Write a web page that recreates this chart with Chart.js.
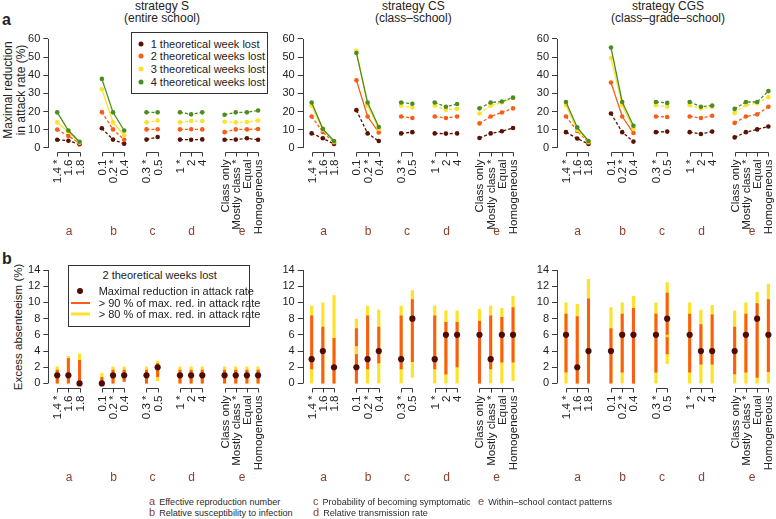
<!DOCTYPE html>
<html>
<head>
<meta charset="utf-8">
<script src="https://cdn.jsdelivr.net/npm/chart.js@4.4.1/dist/chart.umd.min.js"></script>
<style>
body { margin: 0; width: 776px; height: 519px; background: #fff; position: relative; overflow: hidden;
       font-family: "Liberation Sans", Arial, sans-serif; color: #222; }
canvas { position: absolute; }
.t { position: absolute; white-space: nowrap; transform: translate(-50%, -50%); }
.rot { position: absolute; white-space: nowrap; transform: translate(-50%, -50%) rotate(-90deg); text-align: center; }
.box { position: absolute; background: #fff; border: 1px solid #333; box-sizing: border-box; }
.lt { position: absolute; white-space: nowrap; transform: translateY(-50%); font-size: 11px; }
.dot { position: absolute; border-radius: 50%; transform: translate(-50%, -50%); }
.seg { position: absolute; transform: translateY(-50%); }
.fn { position: absolute; white-space: nowrap; transform: translateY(-50%); font-size: 9.1px; color: #2a2a2a; }
.fn b { font-weight: normal; color: #8b3e2f; font-size: 11px; margin-right: 4px; }
</style>
</head>
<body>

<div class="t" style="left:2px;top:12px;transform:none;font-weight:bold;font-size:16px;line-height:1">a</div>
<div class="t" style="left:2px;top:251px;transform:none;font-weight:bold;font-size:16px;line-height:1">b</div>

<div class="t" style="left:162px;top:6px;font-size:12px">strategy S</div>
<div class="t" style="left:162px;top:17.5px;font-size:12px">(entire school)</div>
<div class="t" style="left:413.3px;top:6px;font-size:12px">strategy CS</div>
<div class="t" style="left:413.3px;top:17.5px;font-size:12px">(class–school)</div>
<div class="t" style="left:668px;top:6px;font-size:12px">strategy CGS</div>
<div class="t" style="left:668px;top:17.5px;font-size:12px">(class–grade–school)</div>

<div class="rot" style="left:14.7px;top:90px;font-size:12px;line-height:12.7px">Maximal reduction<br>in attack rate (%)</div>
<div class="rot" style="left:18.3px;top:327px;font-size:11.5px">Excess absenteeism (%)</div>

<canvas id="topS"></canvas>
<canvas id="topCS"></canvas>
<canvas id="topCGS"></canvas>
<canvas id="botS"></canvas>
<canvas id="botCS"></canvas>
<canvas id="botCGS"></canvas>

<div id="legendTop" class="box" style="left:130.7px;top:31.7px;width:137.6px;height:62.3px"></div>
<div id="legendBot" class="box" style="left:67.7px;top:264.7px;width:182.3px;height:62px"></div>

<div id="foot"></div>

<script>
// x axis: scenarios, grouped by varied parameter (a..e)
const groupLetters = ['a', 'b', 'c', 'd', 'e'];
const groupNames = ['Effective reproduction number', 'Relative susceptibility to infection',
    'Probability of becoming symptomatic', 'Relative transmission rate', 'Within–school contact patterns'];
const scenarioLabels = ['1.4 *', '1.6', '1.8', '0.1', '0.2 *', '0.4', '0.3 *', '0.5',
    '1 *', '2', '4', 'Class only', 'Mostly class *', 'Equal', 'Homogeneous'];
const scenarioGroup = [0, 0, 0, 1, 1, 1, 2, 2, 3, 3, 3, 4, 4, 4, 4];

// panel a: maximal reduction in attack rate (%), by theoretical weeks lost
const weeksLost = ['1 theoretical week lost', '2 theoretical weeks lost', '3 theoretical weeks lost', '4 theoretical weeks lost'];
const reductionTicks = [0, 10, 20, 30, 40, 50, 60];

const redS1 = [4.5, 4.0, 2.0, 10.8, 4.6, 2.3, 4.6, 6.0, 4.6, 4.5, 4.7, 4.5, 4.6, 5.3, 4.5];
const redS2 = [10.1, 6.6, 2.6, 19.7, 10.2, 4.5, 10.2, 10.3, 10.2, 10.3, 10.2, 8.7, 10.2, 10.2, 10.4];
const redS3 = [14.1, 8.9, 3.0, 32.3, 14.1, 7.0, 14.1, 15.1, 14.1, 14.8, 14.8, 14.4, 14.1, 14.3, 15.1];
const redS4 = [19.6, 9.6, 3.4, 38.0, 19.6, 9.6, 19.6, 19.6, 19.6, 18.5, 19.6, 18.3, 19.6, 19.6, 20.6];

const redCS1 = [8.0, 5.3, 2.2, 20.8, 8.0, 3.8, 8.0, 8.7, 8.0, 7.9, 8.0, 5.5, 8.0, 9.2, 11.0];
const redCS2 = [17.3, 8.8, 3.0, 37.3, 17.3, 8.5, 17.3, 16.5, 17.3, 16.5, 17.3, 13.5, 17.3, 19.5, 21.8];
const redCS3 = [23.3, 10.0, 3.5, 53.5, 23.3, 10.5, 23.3, 22.3, 23.3, 21.0, 21.6, 19.0, 23.3, 25.0, 27.5];
const redCS4 = [25.0, 10.5, 3.8, 52.3, 25.0, 11.5, 25.0, 24.3, 25.0, 22.7, 24.2, 21.8, 25.0, 25.6, 27.7];

const redCGS1 = [8.7, 5.2, 2.2, 19.0, 8.7, 3.5, 8.7, 9.0, 8.7, 7.7, 9.0, 5.8, 8.7, 10.2, 11.8];
const redCGS2 = [17.3, 9.3, 3.0, 36.0, 17.3, 8.2, 17.3, 17.0, 17.3, 16.5, 17.7, 13.8, 17.3, 18.5, 22.7];
const redCGS3 = [23.5, 10.0, 3.5, 49.5, 23.5, 10.5, 23.5, 22.7, 23.5, 21.7, 22.5, 19.3, 23.5, 24.7, 28.0];
const redCGS4 = [25.3, 11.3, 3.8, 55.3, 25.3, 12.2, 25.3, 24.8, 25.3, 22.7, 23.3, 21.5, 25.3, 25.3, 31.3];

// panel b: excess absenteeism (%), 2 theoretical weeks lost
const absenteeismTicks = [0, 2, 4, 6, 8, 10, 12, 14];
const bLegend = ['2 theoretical weeks lost', 'Maximal reduction in attack rate',
    '> 90 % of max. red. in attack rate', '> 80 % of max. red. in attack rate'];

const absS = [1, 1, 0, 0, 1, 1, 1, 2, 1, 1, 1, 1, 1, 1, 1];
const absS90 = [[0, 1.7], [0, 3.1], [0, 2.9], [0, 0.8], [0, 1.7], [0.2, 1.7], [0, 1.7], [0.8, 2.5],
    [0, 1.7], [0, 1.7], [0, 1.7], [0, 1.7], [0, 1.7], [0, 1.7], [0, 1.7]];
const absS80 = [[0, 2.1], [0, 3.4], [0, 3.7], [0, 1.3], [0, 2.1], [0.2, 2.1], [0, 2.1], [0.3, 2.8],
    [0, 2.1], [0, 2.1], [0, 2.1], [0, 2.1], [0, 2.1], [0, 2.1], [0, 2.1]];
const absSGap = [];

const absCS = [3, 4, 2, 2, 3, 4, 3, 8, 3, 6, 6, 6, 3, 6, 6];
const absCS90 = [[1.75, 8.4], [0, 7.0], [0, 5.6], [0, 6.8], [1.75, 8.4], [2.5, 7.0], [1.75, 8.4], [2.65, 10.4],
    [1.75, 8.4], [1.1, 7.6], [2.0, 7.6], [0, 7.7], [1.75, 8.4], [2.6, 8.2], [2.6, 9.4]];
const absCS80 = [[0, 9.6], [0, 10.0], [0, 10.9], [0, 8.0], [0, 9.6], [0, 9.1], [0, 9.6], [0.7, 11.5],
    [0, 9.6], [0, 9.0], [0, 9.0], [0, 9.2], [0, 9.6], [0, 9.3], [0.3, 10.8]];
const absCSGap = [[3, [3.6, 4.6]]];

const absCGS = [6, 2, 4, 4, 6, 6, 6, 8, 6, 4, 4, 4, 6, 8, 6];
const absCGS90 = [[1.35, 8.6], [0, 8.3], [0, 10.5], [0, 6.8], [1.35, 8.6], [0, 9.3], [1.35, 8.6], [3.6, 11.2],
    [1.35, 8.6], [2.35, 7.3], [2.35, 8.5], [1.15, 7.0], [1.35, 8.6], [0.7, 9.9], [1.4, 10.4]];
const absCGS80 = [[0, 10.0], [0, 9.8], [0, 12.9], [0, 9.4], [0, 10.0], [0, 10.8], [0, 10.0], [2.4, 12.5],
    [0, 10.0], [0, 9.1], [0, 9.7], [0, 9.0], [0, 10.0], [0, 11.3], [0, 12.3]];
const absCGSGap = [[7, [5.7, 6.0]]];

// ---- styling / layout ----
const weekColors = ['#5a1205', '#f95d17', '#fde22a', '#4b8d23'];
const pointDark = '#4e0c03';
const letterColor = '#8b3e2f';
const axisColor = '#3a3a3a';
Chart.defaults.font.family = '"Liberation Sans", Arial, sans-serif';
Chart.defaults.font.size = 11;
Chart.defaults.color = '#222';

const cols = [
    { left: 0, axisX: 48.3, right: 268.6, xmax: 18.8 },
    { left: 270, axisX: 302.7, right: 524, xmax: 18.8 },
    { left: 526, axisX: 557, right: 775.6, xmax: 18.5 }
];
const rows = {
    top: { top: 25, height: 215, areaTop: 28.7, areaBottom: 152.3, ymin: -2.4, ymax: 62.4, letterOffset: 79.7 },
    bot: { top: 255, height: 230, areaTop: 265.5, areaBottom: 388, ymin: -0.56, ymax: 14.56, letterOffset: 90 }
};

// position along the x scale: one empty slot between groups
const xPos = i => i + scenarioGroup[i];
function groupOfPos(p) {
    for (let i = 0; i < scenarioLabels.length; i++) if (xPos(i) === p) return scenarioGroup[i];
    return -1;
}

// R-like axes: y line only between end ticks, bracketed group axes below
const rAxes = {
    id: 'rAxes',
    afterDraw(chart, args, o) {
        const { ctx, chartArea: ca, scales: { x, y } } = chart;
        ctx.save();
        ctx.strokeStyle = axisColor;
        ctx.lineWidth = 1;
        const ax = Math.round(ca.left) + 0.5;
        const yt = y.ticks;
        ctx.beginPath();
        ctx.moveTo(ax, y.getPixelForValue(yt[0].value));
        ctx.lineTo(ax, y.getPixelForValue(yt[yt.length - 1].value));
        ctx.stroke();

        const yb = Math.round(ca.bottom) + 0.5;
        groupLetters.forEach((letter, g) => {
            const idx = scenarioLabels.map((_, i) => i).filter(i => scenarioGroup[i] === g);
            const px = idx.map(i => Math.round(x.getPixelForValue(xPos(i))) + 0.5);
            ctx.beginPath();
            ctx.moveTo(px[0], yb);
            ctx.lineTo(px[px.length - 1], yb);
            px.forEach(p => { ctx.moveTo(p, yb); ctx.lineTo(p, yb + 4); });
            ctx.stroke();
            ctx.font = '11.5px "Liberation Sans", Arial, sans-serif';
            ctx.fillStyle = '#222';
            ctx.textAlign = 'right';
            ctx.textBaseline = 'middle';
            idx.forEach((i, k) => {
                ctx.save();
                ctx.translate(px[k], yb + 7);
                ctx.rotate(-Math.PI / 2);
                ctx.fillText(scenarioLabels[i], 0, 0);
                ctx.restore();
            });
            ctx.font = '12px "Liberation Sans", Arial, sans-serif';
            ctx.fillStyle = letterColor;
            ctx.textAlign = 'center';
            ctx.fillText(letter, (px[0] + px[px.length - 1]) / 2, ca.bottom + o.letterOffset);
        });
        ctx.restore();
    }
};

function makeChart(id, col, row, ticks, config) {
    const w = Math.ceil(col.right - col.left) + 2;
    const c = document.getElementById(id);
    c.width = w;
    c.height = row.height;
    c.style.left = col.left + 'px';
    c.style.top = row.top + 'px';
    config.options = {
        responsive: false,
        animation: false,
        layout: { padding: { left: 0, top: row.areaTop - row.top, right: w - (col.right - col.left), bottom: row.top + row.height - row.areaBottom } },
        plugins: { legend: { display: false }, tooltip: { enabled: false }, rAxes: { letterOffset: row.letterOffset } },
        scales: {
            x: { type: 'linear', min: -0.8, max: col.xmax, display: false, offset: false },
            y: {
                min: row.ymin, max: row.ymax,
                afterBuildTicks: s => { s.ticks = ticks.map(v => ({ value: v })); },
                afterFit: s => { s.width = col.axisX - col.left; },
                grid: { drawOnChartArea: false, tickLength: 5, color: axisColor },
                border: { display: false },
                ticks: { padding: 3, color: '#222' }
            }
        }
    };
    config.plugins = [rAxes];
    return new Chart(c, config);
}

// solid segments: for each series, the groups drawn solid; the rest dashed
const solidGroups = {
    S: [[], [], [0, 1], [0, 1]],
    C: [[], [1], [0, 1], [0, 1]]
};

function lineData(values) {
    const pts = [];
    values.forEach((v, i) => {
        if (i > 0 && scenarioGroup[i] !== scenarioGroup[i - 1]) pts.push({ x: xPos(i) - 1, y: null });
        pts.push({ x: xPos(i), y: v });
    });
    return pts;
}

function topChart(id, col, series, solid) {
    return makeChart(id, col, rows.top, reductionTicks, {
        type: 'line',
        data: {
            datasets: series.map((vals, si) => ({
                label: weeksLost[si],
                data: lineData(vals),
                borderColor: weekColors[si],
                backgroundColor: weekColors[si],
                borderWidth: 1.3,
                pointRadius: 2.3,
                pointBorderWidth: 0,
                pointBackgroundColor: weekColors[si],
                order: 3 - si,
                segment: { borderDash: ctx => solid[si].includes(groupOfPos(ctx.p0.parsed.x)) ? [] : [3, 2] }
            }))
        }
    });
}

// vertical interval segments, broken by null points
function rangeData(items) {
    return items.flatMap(([i, r]) => [{ x: xPos(i), y: r[0] }, { x: xPos(i), y: r[1] }, { x: xPos(i), y: null }]);
}

function botChart(id, col, point, r90, r80, gaps) {
    const range = (items, color, width, order) => ({
        data: rangeData(items), borderColor: color, borderWidth: width, borderCapStyle: 'butt',
        pointRadius: 0, spanGaps: false, order
    });
    return makeChart(id, col, rows.bot, absenteeismTicks, {
        type: 'line',
        data: {
            datasets: [
                { label: bLegend[1], data: point.map((v, i) => ({ x: xPos(i), y: v })), showLine: false,
                  pointRadius: 3.1, pointBorderWidth: 0, pointBackgroundColor: pointDark, order: 0 },
                range(gaps, weekColors[2], 3, 1),
                range(r90.map((r, i) => [i, r]), weekColors[1], 3, 2),
                range(r80.map((r, i) => [i, r]), weekColors[2], 3.2, 3)
            ]
        }
    });
}

topChart('topS', cols[0], [redS1, redS2, redS3, redS4], solidGroups.S);
topChart('topCS', cols[1], [redCS1, redCS2, redCS3, redCS4], solidGroups.C);
topChart('topCGS', cols[2], [redCGS1, redCGS2, redCGS3, redCGS4], solidGroups.C);
botChart('botS', cols[0], absS, absS90, absS80, absSGap);
botChart('botCS', cols[1], absCS, absCS90, absCS80, absCSGap);
botChart('botCGS', cols[2], absCGS, absCGS90, absCGS80, absCGSGap);

// legends
const lt = document.getElementById('legendTop');
const rowsY = [10.9, 23.7, 36.5, 49.3];
lt.innerHTML = weeksLost.map((w, i) =>
    `<div class="dot" style="left:9px;top:${rowsY[i]}px;width:5px;height:5px;background:${weekColors[i]}"></div>` +
    `<div class="lt" style="left:19px;top:${rowsY[i]}px">${w}</div>`).join('');

const lb = document.getElementById('legendBot');
lb.innerHTML =
    `<div class="lt" style="left:91px;top:9.3px;transform:translate(-50%,-50%)">${bLegend[0]}</div>` +
    `<div class="dot" style="left:11.6px;top:25.3px;width:6px;height:6px;background:${pointDark}"></div>` +
    `<div class="lt" style="left:30px;top:25.3px">${bLegend[1]}</div>` +
    `<div class="seg" style="left:2.3px;top:37px;width:19.3px;height:2px;background:${weekColors[1]}"></div>` +
    `<div class="lt" style="left:30px;top:37px">${bLegend[2]}</div>` +
    `<div class="seg" style="left:2.3px;top:48.6px;width:19.3px;height:3px;background:${weekColors[2]}"></div>` +
    `<div class="lt" style="left:30px;top:48.6px">${bLegend[3]}</div>`;

// footnote: parameter key
const footPos = [[149, 500.7], [149, 512.3], [313, 500.7], [313, 512.3], [478, 500.7]];
document.getElementById('foot').innerHTML = groupLetters.map((l, g) =>
    `<div class="fn" style="left:${footPos[g][0]}px;top:${footPos[g][1]}px"><b>${l}</b>${groupNames[g]}</div>`).join('');
</script>
</body>
</html>
